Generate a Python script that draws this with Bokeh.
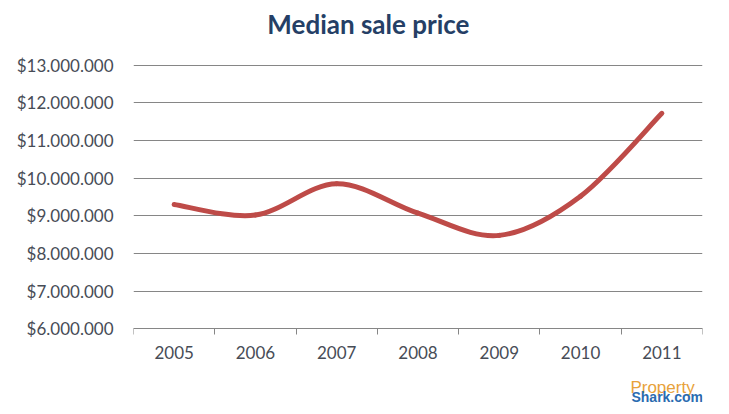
from bokeh.plotting import figure
from bokeh.models import Range1d, FixedTicker, Label, LinearAxis
from bokeh.embed import file_html
from bokeh.resources import INLINE

years = [2005, 2006, 2007, 2008, 2009, 2010, 2011]
prices = [9300000, 9020000, 9850000, 9070000, 8480000, 9520000, 11720000]
y_ticks = [6000000, 7000000, 8000000, 9000000, 10000000, 11000000, 12000000, 13000000]
y_tick_labels = ["$6.000.000", "$7.000.000", "$8.000.000", "$9.000.000",
                 "$10.000.000", "$11.000.000", "$12.000.000", "$13.000.000"]
title_text = "Median sale price"
logo_top = "Property"
logo_bottom = "Shark.com"

# frame spans the whole canvas height; title and logo sit inside it
p = figure(width=729, height=414, output_backend="svg", toolbar_location=None,
           x_axis_location=None,
           x_range=Range1d(years[0] - 0.5, years[-1] + 0.5),
           y_range=Range1d(3725000, 14715000),
           min_border_left=133, min_border_right=27, min_border_top=0, min_border_bottom=0)
p.outline_line_color = None
p.background_fill_color = "white"
p.border_fill_color = "white"

# smooth line (Catmull-Rom -> cubic Bezier) through the data points
n = len(years)
x0, y0, x1, y1, cx0, cy0, cx1, cy1 = [], [], [], [], [], [], [], []
for i in range(n - 1):
    pa = i - 1 if i > 0 else i
    pd = i + 2 if i + 2 < n else i + 1
    x0.append(years[i]); y0.append(prices[i])
    x1.append(years[i + 1]); y1.append(prices[i + 1])
    cx0.append(years[i] + (years[i + 1] - years[pa]) / 6)
    cy0.append(prices[i] + (prices[i + 1] - prices[pa]) / 6)
    cx1.append(years[i + 1] - (years[pd] - years[i]) / 6)
    cy1.append(prices[i + 1] - (prices[pd] - prices[i]) / 6)
p.bezier(x0=x0, y0=y0, x1=x1, y1=y1, cx0=cx0, cy0=cy0, cx1=cx1, cy1=cy1,
         line_color="#BE4B48", line_width=5, line_cap="round")

label_color = "#474c56"
# x axis fixed at the $6M level
xa = LinearAxis(fixed_location=y_ticks[0])
xa.ticker = FixedTicker(ticks=years, minor_ticks=[y - 0.5 for y in years] + [years[-1] + 0.5])
xa.major_tick_line_color = None
xa.major_tick_out = 0
xa.major_tick_in = 0
xa.minor_tick_line_color = "#868686"
xa.minor_tick_out = 6
xa.minor_tick_in = 0
xa.axis_line_color = "#868686"
xa.major_label_standoff = 11
xa.major_label_text_font = "Lato"
xa.major_label_text_font_size = "17px"
xa.major_label_text_color = label_color
p.add_layout(xa, "below")

ya = p.yaxis[0]
ya.ticker = FixedTicker(ticks=y_ticks)
ya.major_label_overrides = dict(zip(y_ticks, y_tick_labels))
ya.axis_line_color = None
ya.major_tick_line_color = None
ya.minor_tick_line_color = None
ya.major_tick_out = 0
ya.major_label_standoff = 20
ya.major_label_text_font = "Lato"
ya.major_label_text_font_size = "17px"
ya.major_label_text_color = label_color

p.xgrid.grid_line_color = None
p.ygrid.grid_line_color = "#868686"
p.ygrid.grid_line_width = 1

# title
p.add_layout(Label(x=2007.39, y=14097000, text=title_text, text_align="center",
                   text_baseline="alphabetic", text_font="Lato", text_font_style="bold",
                   text_font_size="26px", text_color="#253F66"))
# logo text
p.add_layout(Label(x=2010.613, y=4455000, text=logo_top, text_align="left",
                   text_baseline="alphabetic", text_font="Liberation Sans",
                   text_font_size="17px", text_color="#E8A23A"))
p.add_layout(Label(x=2010.626, y=4184000, text=logo_bottom, text_align="left",
                   text_baseline="alphabetic", text_font="Liberation Sans",
                   text_font_style="bold", text_font_size="14px", text_color="#2A6BB0"))

open("out.html", "w").write(file_html(p, INLINE))
